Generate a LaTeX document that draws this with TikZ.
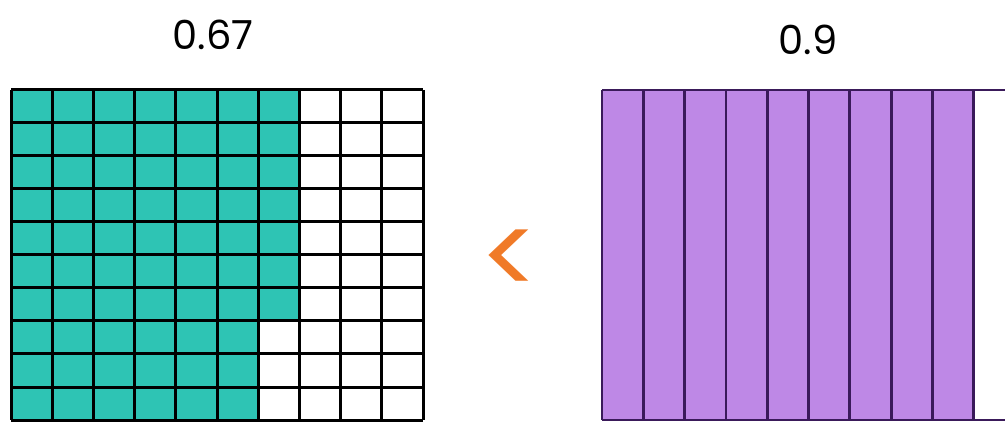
\documentclass[tikz,border=0pt]{standalone}
\usepackage{fontspec}
\setmainfont{Poppins}
\usetikzlibrary{positioning}

\definecolor{tealfill}{HTML}{2EC4B4}
\definecolor{lilac}{HTML}{BE88E6}
\definecolor{plumline}{HTML}{3A1A5A}
\definecolor{signorange}{HTML}{F07A28}

\begin{document}
\begin{tikzpicture}[x=1pt,y=-1pt, every node/.style={font=\fontsize{40}{46}\selectfont}]
  \useasboundingbox (0,0) rectangle (1005,422);
  % hundredths grid, 67 shaded
  \fill[tealfill] (11,90) rectangle (258.2,420);
  \fill[tealfill] (258.2,90) rectangle (299.4,321);
  \foreach \i in {0,...,10}
    \draw[line width=3pt] (11+41.2*\i,90) -- (11+41.2*\i,420);
  \foreach \j in {0,...,10}
    \draw[line width=3pt] (11,90+33*\j) -- (423,90+33*\j);
  % tenths strips, 9 shaded
  \fill[lilac] (602,90) rectangle (973.7,420);
  \foreach \i in {0,...,10}
    \draw[plumline,line width=2.8pt] (602+41.3*\i,90) -- (602+41.3*\i,420);
  \draw[plumline,line width=2.8pt] (602,90) -- (1015,90);
  \draw[plumline,line width=2.8pt] (602,420) -- (1015,420);
  % labels and sign
  \node (lblA) at (213,35) {0.67};
  \node (lblB) at (808,40) {0.9};
  \node[text=signorange,font=\fontsize{112}{120}\selectfont] (sign) at (511,263) {<};
\end{tikzpicture}
\end{document}
